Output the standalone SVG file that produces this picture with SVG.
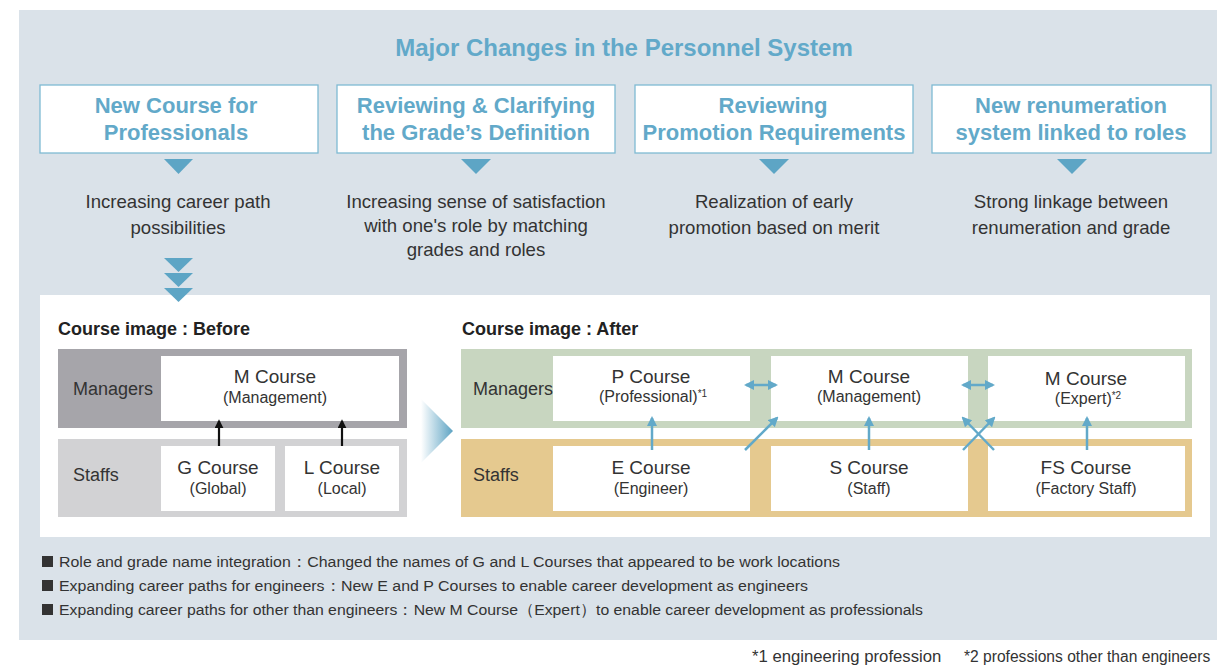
<svg xmlns="http://www.w3.org/2000/svg" width="1217" height="666" viewBox="0 0 1217 666">
<defs>
<style>
.t{font-family:"Liberation Sans",Arial,sans-serif;}
.title{font-size:24px;font-weight:bold;fill:#62a9c9;text-anchor:middle;}
.bt{font-size:22px;font-weight:bold;fill:#62a9c9;text-anchor:middle;}
.box{fill:#ffffff;stroke:#7fbad3;stroke-width:1.3;}
.tri{fill:#5da5c5;}
.desc{font-size:18.6px;fill:#333333;text-anchor:middle;}
.hd{font-size:18px;font-weight:bold;fill:#222222;}
.lbl{font-size:18px;fill:#333333;}
.cn{font-size:19px;fill:#333333;text-anchor:middle;}
.cs{font-size:16px;fill:#333333;text-anchor:middle;}
.sup{font-size:10px;}
.wb{fill:#ffffff;}
.bul{font-size:15.5px;fill:#333333;}
.fn{font-size:16.7px;fill:#333333;}
.fn2{font-size:15.6px;fill:#333333;}
.ba{stroke:#62a9c9;stroke-width:2.5;fill:none;}
.ka{stroke:#111111;stroke-width:2.2;fill:none;}
</style>
<marker id="ab" viewBox="0 0 10 10" refX="8" refY="5" markerUnits="userSpaceOnUse" markerWidth="10" markerHeight="10" orient="auto-start-reverse">
<path d="M0,0 L10,5 L0,10 z" fill="#62a9c9"/>
</marker>
<marker id="ak" viewBox="0 0 10 10" refX="8" refY="5" markerUnits="userSpaceOnUse" markerWidth="9" markerHeight="9" orient="auto">
<path d="M0,0 L10,5 L0,10 z" fill="#111111"/>
</marker>
<linearGradient id="chev" x1="0" y1="0" x2="1" y2="0">
<stop offset="0" stop-color="#ffffff"/>
<stop offset="1" stop-color="#5da3c3"/>
</linearGradient>
</defs>

<rect x="19" y="10" width="1198" height="630" fill="#dae2e9"/>
<text class="t title" x="624" y="56">Major Changes in the Personnel System</text>

<g id="box1">
<rect class="box" x="40" y="85" width="278" height="68"/>
<text class="t bt" x="176" y="113">New Course for</text>
<text class="t bt" x="176" y="140">Professionals</text>
<polygon class="tri" points="164,159 193,159 178.5,174"/>
<text class="t desc" x="178" y="208">Increasing career path</text>
<text class="t desc" x="178" y="234">possibilities</text>
</g>
<g id="box2">
<rect class="box" x="337" y="85" width="278" height="68"/>
<text class="t bt" x="476" y="113">Reviewing &amp; Clarifying</text>
<text class="t bt" x="476" y="140">the Grade’s Definition</text>
<polygon class="tri" points="461,159 491,159 476,174"/>
<text class="t desc" x="476" y="208">Increasing sense of satisfaction</text>
<text class="t desc" x="476" y="232">with one's role by matching</text>
<text class="t desc" x="476" y="256">grades and roles</text>
</g>
<g id="box3">
<rect class="box" x="635" y="85" width="278" height="68"/>
<text class="t bt" x="773" y="113">Reviewing</text>
<text class="t bt" x="774" y="140">Promotion Requirements</text>
<polygon class="tri" points="759,159 789,159 774,174"/>
<text class="t desc" x="774" y="208">Realization of early</text>
<text class="t desc" x="774" y="234">promotion based on merit</text>
</g>
<g id="box4">
<rect class="box" x="932" y="85" width="279" height="68"/>
<text class="t bt" x="1071" y="113">New renumeration</text>
<text class="t bt" x="1071" y="140">system linked to roles</text>
<polygon class="tri" points="1057,159 1087,159 1072,174"/>
<text class="t desc" x="1071" y="208">Strong linkage between</text>
<text class="t desc" x="1071" y="234">renumeration and grade</text>
</g>

<rect class="wb" x="40" y="295" width="1170" height="242"/>

<g id="triple">
<polygon class="tri" points="164,258 193,258 178.5,272"/>
<polygon class="tri" points="164,273 193,273 178.5,287"/>
<polygon class="tri" points="164,288 193,288 178.5,302"/>
</g>

<g id="before">
<text class="t hd" x="58" y="335">Course image : Before</text>
<rect x="58" y="349" width="349" height="79" fill="#a6a5aa"/>
<rect x="58" y="439" width="349" height="78" fill="#d2d2d4"/>
<text class="t lbl" x="73" y="395">Managers</text>
<text class="t lbl" x="73" y="481">Staffs</text>
</g>
<g id="before-m">
<rect class="wb" x="161" y="356" width="238" height="65"/>
<text class="t cn" x="275" y="383">M Course</text>
<text class="t cs" x="275" y="403">(Management)</text>
</g>
<g id="before-g">
<rect class="wb" x="161" y="446" width="114" height="65"/>
<text class="t cn" x="218" y="474">G Course</text>
<text class="t cs" x="218" y="494">(Global)</text>
</g>
<g id="before-l">
<rect class="wb" x="285" y="446" width="114" height="65"/>
<text class="t cn" x="342" y="474">L Course</text>
<text class="t cs" x="342" y="494">(Local)</text>
</g>

<polygon points="421,399 453,431 421,463" fill="url(#chev)"/>

<g id="after">
<text class="t hd" x="462" y="335">Course image : After</text>
<rect x="461" y="349" width="731" height="79" fill="#c8d6c0"/>
<rect x="461" y="439" width="731" height="78" fill="#e5c98f"/>
<text class="t lbl" x="473" y="395">Managers</text>
<text class="t lbl" x="473" y="481">Staffs</text>
</g>
<g id="after-p">
<rect class="wb" x="553" y="356" width="197" height="65"/>
<text class="t cn" x="651" y="383">P Course</text>
<text class="t cs" x="653" y="402">(Professional)<tspan class="sup" dy="-5">*1</tspan></text>
</g>
<g id="after-m">
<rect class="wb" x="771" y="356" width="197" height="65"/>
<text class="t cn" x="869" y="383">M Course</text>
<text class="t cs" x="869" y="402">(Management)</text>
</g>
<g id="after-mx">
<rect class="wb" x="988" y="356" width="197" height="65"/>
<text class="t cn" x="1086" y="385">M Course</text>
<text class="t cs" x="1088" y="404">(Expert)<tspan class="sup" dy="-5">*2</tspan></text>
</g>
<g id="after-e">
<rect class="wb" x="553" y="446" width="197" height="65"/>
<text class="t cn" x="651" y="474">E Course</text>
<text class="t cs" x="651" y="494">(Engineer)</text>
</g>
<g id="after-s">
<rect class="wb" x="771" y="446" width="197" height="65"/>
<text class="t cn" x="869" y="474">S Course</text>
<text class="t cs" x="869" y="494">(Staff)</text>
</g>
<g id="after-fs">
<rect class="wb" x="988" y="446" width="197" height="65"/>
<text class="t cn" x="1086" y="474">FS Course</text>
<text class="t cs" x="1086" y="494">(Factory Staff)</text>
</g>

<g id="connectors">
<line class="ka" x1="219" y1="446" x2="219" y2="421" marker-end="url(#ak)"/>
<line class="ka" x1="342" y1="446" x2="342" y2="421" marker-end="url(#ak)"/>
<line class="ba" x1="652" y1="450" x2="652" y2="418" marker-end="url(#ab)"/>
<line class="ba" x1="869" y1="450" x2="869" y2="418" marker-end="url(#ab)"/>
<line class="ba" x1="1087" y1="450" x2="1087" y2="418" marker-end="url(#ab)"/>
<line class="ba" x1="746" y1="385" x2="776" y2="385" marker-start="url(#ab)" marker-end="url(#ab)"/>
<line class="ba" x1="963" y1="385" x2="993" y2="385" marker-start="url(#ab)" marker-end="url(#ab)"/>
<line class="ba" x1="745" y1="450" x2="777" y2="418" marker-end="url(#ab)"/>
<line class="ba" x1="963" y1="450" x2="994" y2="418" marker-end="url(#ab)"/>
<line class="ba" x1="994" y1="450" x2="963" y2="418" marker-end="url(#ab)"/>
</g>

<g id="notes">
<rect x="42" y="556" width="11" height="11" fill="#333333"/>
<rect x="42" y="580" width="11" height="11" fill="#333333"/>
<rect x="42" y="604" width="11" height="11" fill="#333333"/>
<text class="t bul" x="59" y="567" textLength="781" lengthAdjust="spacingAndGlyphs">Role and grade name integration：Changed the names of G and L Courses that appeared to be work locations</text>
<text class="t bul" x="59" y="591" textLength="749" lengthAdjust="spacingAndGlyphs">Expanding career paths for engineers：New E and P Courses to enable career development as engineers</text>
<text class="t bul" x="59" y="615" textLength="864" lengthAdjust="spacingAndGlyphs">Expanding career paths for other than engineers：New M Course（Expert）to enable career development as professionals</text>
</g>

<text class="t fn" x="752" y="662">*1 engineering profession</text>
<text class="t fn2" x="964" y="662">*2 professions other than engineers</text>
</svg>
